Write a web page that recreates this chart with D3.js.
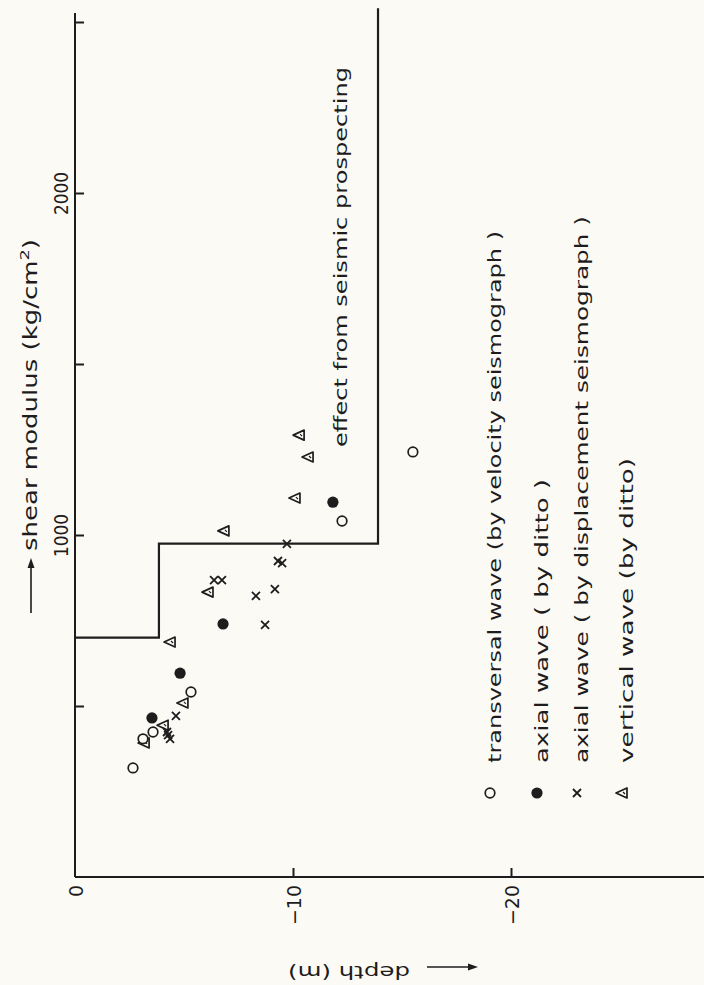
<!DOCTYPE html>
<html><head><meta charset="utf-8">
<script src="https://cdn.jsdelivr.net/npm/d3@7"></script>
<style>html,body{margin:0;padding:0;background:#fbfaf5;} svg{display:block}</style>
</head><body><svg id="c" width="704" height="985"></svg>
<script>
// ---- data ----
const depthTicks = [0, -10, -20];
const depthTickLabels = ["0", "\u221210", "\u221220"];
const shearTicks = [500, 1000, 1500, 2000, 2500];
const shearTickLabels = ["", "1000", "", "2000", ""];

const transDepth = [-2.66, -3.12, -3.58, -5.32, -12.25, -15.5];
const transShear = [319, 404, 424, 541, 1041, 1243];
const axialDepth = [-3.53, -4.82, -6.79, -11.83];
const axialShear = [465, 596, 740, 1096];
const dispDepth = [-4.63, -4.22, -4.27, -4.36, -6.38, -6.74, -8.30, -8.72, -9.17, -9.31, -9.50, -9.72];
const dispShear = [471, 424, 415, 404, 868, 868, 822, 737, 842, 924, 918, 974];
const vertDepth = [-3.17, -4.04, -4.95, -4.36, -6.10, -6.83, -10.09, -10.69, -10.28];
const vertShear = [392, 444, 509, 687, 833, 1012, 1108, 1228, 1292];

const stepDepth = [0, -3.85, -3.85, -13.9, -13.9];
const stepShear = [700, 700, 975, 975, 2540];

const legendKinds = ["open", "filled", "cross", "tri"];
const legendLabels = [
  "transversal wave  (by velocity seismograph )",
  "axial wave  ( by  ditto )",
  "axial wave  ( by displacement  seismograph )",
  "vertical wave (by ditto)"
];
const annotation = "effect from seismic prospecting";
const xTitle = "depth (m)";
const yTitle = "shear modulus  (kg/cm";

// ---- drawing ----
const ink = "#1e1c1c";
const font = "'DejaVu Sans', sans-serif";
const svg = d3.select("#c");
svg.append("rect").attr("width", 704).attr("height", 985).attr("fill", "#fbfaf5");

const x = d3.scaleLinear().domain([0, -30]).range([75, 729]);
const y = d3.scaleLinear().domain([0, 2500]).range([877, 22]);

// axis lines
svg.append("line").attr("x1", x(0)).attr("x2", 704).attr("y1", y(0)).attr("y2", y(0))
  .attr("stroke", ink).attr("stroke-width", 2);
svg.append("line").attr("x1", x(0)).attr("x2", x(0)).attr("y1", y(0)).attr("y2", y(2526))
  .attr("stroke", ink).attr("stroke-width", 2);

// shear axis (ticks inward)
const yAxis = d3.axisLeft(y).tickValues(shearTicks)
  .tickFormat((d, i) => shearTickLabels[i]).tickSizeInner(-9).tickSizeOuter(0);
const gy = svg.append("g").attr("transform", `translate(${x(0)},0)`).call(yAxis);
gy.select(".domain").remove();
gy.selectAll(".tick line").attr("stroke", ink).attr("stroke-width", 2);
gy.selectAll(".tick text")
  .attr("x", null).attr("dy", null).attr("y", null)
  .attr("text-anchor", "middle")
  .attr("transform", "translate(-7,0) rotate(-90)")
  .attr("font-family", font).attr("font-size", 19).attr("fill", ink)
  .attr("textLength", d => (shearTickLabels[shearTicks.indexOf(d)] ? 43 : null))
  .attr("lengthAdjust", "spacingAndGlyphs");

// depth axis (ticks inward)
const xAxis = d3.axisBottom(x).tickValues(depthTicks)
  .tickFormat((d, i) => depthTickLabels[i]).tickSizeInner(-9).tickSizeOuter(0);
const gx = svg.append("g").attr("transform", `translate(0,${y(0)})`).call(xAxis);
gx.select(".domain").remove();
gx.selectAll(".tick line").attr("stroke", ink).attr("stroke-width", 2)
  .attr("opacity", d => d === 0 ? 0 : 1);
gx.selectAll(".tick text")
  .attr("x", null).attr("dy", null).attr("y", null)
  .attr("text-anchor", "end")
  .attr("transform", "translate(7,8) rotate(-90)")
  .attr("font-family", font).attr("font-size", 19).attr("fill", ink);

// step line
const stepLine = d3.line().x(d => x(d[0])).y(d => y(d[1]));
svg.append("path").datum(d3.zip(stepDepth, stepShear))
  .attr("d", stepLine).attr("fill", "none").attr("stroke", ink).attr("stroke-width", 2.2);

// markers
function drawMarker(g, kind) {
  if (kind === "open") {
    g.append("circle").attr("r", 4.8).attr("fill", "#fbfaf5").attr("stroke", ink).attr("stroke-width", 1.7);
  } else if (kind === "filled") {
    g.append("circle").attr("r", 5.6).attr("fill", ink);
  } else if (kind === "cross") {
    g.append("path").attr("d", "M-4,-4L4,4M-4,4L4,-4").attr("stroke", ink).attr("stroke-width", 1.8).attr("fill", "none");
  } else {
    g.append("path").attr("d", "M-6,0L5,-5L5,5Z").attr("fill", "#fbfaf5").attr("stroke", ink).attr("stroke-width", 1.7).attr("stroke-linejoin", "round");
    g.append("path").attr("d", "M1,-1L3,1").attr("stroke", ink).attr("stroke-width", 1.2);
  }
}
const series = [
  ["tri", vertDepth, vertShear],
  ["open", transDepth, transShear],
  ["filled", axialDepth, axialShear],
  ["cross", dispDepth, dispShear]
];
series.forEach(([kind, ds, ss]) => {
  const pts = d3.zip(ds, ss);
  svg.append("g").selectAll("g").data(pts).join("g")
    .attr("transform", d => `translate(${x(d[0])},${y(d[1])})`)
    .each(function () { drawMarker(d3.select(this), kind); });
});

// legend
const legMarkX = [490, 537, 577, 622];
const legLen = [532, 284, 547, 305];
legendKinds.forEach((k, i) => {
  const g = svg.append("g").attr("transform", `translate(${legMarkX[i]},793)`);
  drawMarker(g, k);
  svg.append("text")
    .attr("transform", `translate(${legMarkX[i] + 11},763) rotate(-90)`)
    .attr("font-family", font).attr("font-size", 18).attr("fill", ink)
    .attr("textLength", legLen[i]).attr("lengthAdjust", "spacingAndGlyphs")
    .text(legendLabels[i]);
});

// annotation
svg.append("text")
  .attr("transform", `translate(347,447) rotate(-90)`)
  .attr("font-family", font).attr("font-size", 18).attr("fill", ink)
  .attr("textLength", 380).attr("lengthAdjust", "spacingAndGlyphs")
  .text(annotation);

// y title with arrow
svg.append("line").attr("x1", 31).attr("x2", 31).attr("y1", 613).attr("y2", 562)
  .attr("stroke", ink).attr("stroke-width", 1.6);
svg.append("path").attr("d", "M31,558L27.5,568L34.5,568Z").attr("fill", ink);
const yt = svg.append("text")
  .attr("transform", `translate(37,551) rotate(-90)`)
  .attr("font-family", font).attr("font-size", 19).attr("fill", ink)
  .attr("textLength", 312).attr("lengthAdjust", "spacingAndGlyphs");
yt.append("tspan").text(yTitle);
yt.append("tspan").attr("dy", -8).attr("font-size", 13).text("2");
yt.append("tspan").attr("dy", 8).text(")");

// x title (upside down) with arrow
svg.append("text")
  .attr("transform", `translate(410,966) rotate(180)`)
  .attr("font-family", font).attr("font-size", 18).attr("fill", ink)
  .attr("textLength", 122).attr("lengthAdjust", "spacingAndGlyphs")
  .text(xTitle);
svg.append("line").attr("x1", 427).attr("x2", 472).attr("y1", 967).attr("y2", 967)
  .attr("stroke", ink).attr("stroke-width", 1.6);
svg.append("path").attr("d", "M478,967L468,963.5L468,970.5Z").attr("fill", ink);
</script>
</body></html>
